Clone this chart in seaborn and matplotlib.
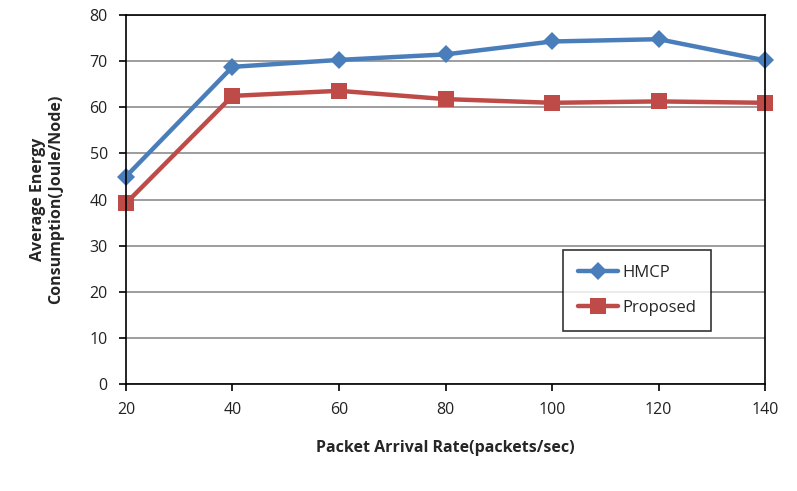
import matplotlib
matplotlib.use("Agg")
import matplotlib.pyplot as plt
import seaborn as sns
import pandas as pd

rates = [20, 40, 60, 80, 100, 120, 140]
hmcp = [45.0, 68.8, 70.3, 71.5, 74.3, 74.8, 70.2]
proposed = [39.2, 62.5, 63.6, 61.8, 61.0, 61.3, 61.0]
y_ticks = [0, 10, 20, 30, 40, 50, 60, 70, 80]

sns.set_theme(style="white")
plt.rcParams['font.family'] = ['Open Sans', 'DejaVu Sans']

df = pd.DataFrame({
    "rate": rates * 2,
    "value": hmcp + proposed,
    "series": ["HMCP"] * len(rates) + ["Proposed"] * len(rates),
})

fig = plt.figure(figsize=(7.97, 4.91), dpi=100)
ax = fig.add_axes([0.158, 0.218, 0.802, 0.751])

palette = {"HMCP": "#4A7EBB", "Proposed": "#BE4B48"}
sns.lineplot(data=df, x="rate", y="value", hue="series", style="series",
             markers={"HMCP": "D", "Proposed": "s"}, dashes=False,
             palette=palette, linewidth=3.2, markersize=11,
             markeredgewidth=0, ax=ax)
for line in ax.get_lines():
    line.set_clip_on(False)
    if line.get_marker() == "D":
        line.set_markersize(9)

ax.set_xlim(20, 140)
ax.set_ylim(0, 80)
ax.set_yticks(y_ticks)
ax.set_xticks(rates)
ax.yaxis.grid(True, color="#8c8c8c", linewidth=1.2)
ax.set_axisbelow(True)
for s in ax.spines.values():
    s.set_color("black")
    s.set_linewidth(1.2)
ax.tick_params(axis="both", direction="out", length=5, width=1.2, color="black",
               labelsize=11.5, labelcolor="#222222", bottom=True, left=True, pad=8)

ax.set_xlabel("Packet Arrival Rate(packets/sec)", fontsize=11.5, fontweight="bold", labelpad=16)
ax.set_ylabel("Average Energy\nConsumption(Joule/Node)", fontsize=11.5, fontweight="bold", labelpad=18)

handles, labels = ax.get_legend_handles_labels()
leg = ax.legend(handles, labels, loc="upper left", bbox_to_anchor=(0.67, 0.385),
                frameon=True, fancybox=False, fontsize=12, handlelength=2.4,
                borderpad=0.9, labelspacing=1.1, handletextpad=0.3)
leg.get_frame().set_edgecolor("black")
leg.get_frame().set_linewidth(1.2)

fig.savefig("out.png", dpi=100)
